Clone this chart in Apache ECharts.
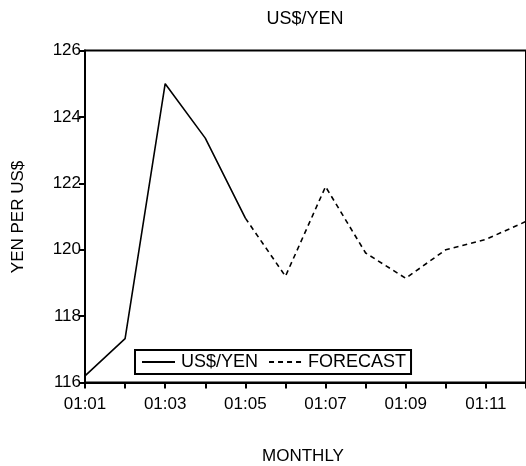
<!DOCTYPE html>
<html>
<head>
<meta charset="utf-8">
<script src="https://cdn.jsdelivr.net/npm/echarts@6/dist/echarts.min.js"></script>
<style>
html,body{margin:0;padding:0;background:#fff;}
#chart{width:526px;height:466px;}
</style>
</head>
<body>
<div id="chart"></div>
<script>
const months = ['01:01','01:02','01:03','01:04','01:05','01:06','01:07','01:08','01:09','01:10','01:11','01:12'];
const actual = [116.2, 117.32, 125.0, 123.36, 120.95, null, null, null, null, null, null, null];
const forecast = [null, null, null, null, 120.95, 119.2, 121.9, 119.9, 119.14, 120.0, 120.31, 120.85];
const yTicks = [116, 118, 120, 122, 124, 126];

const FONT = 'Liberation Sans, Arial, sans-serif';
const chart = echarts.init(document.getElementById('chart'), null, {renderer: 'canvas'});
chart.setOption({
  animation: false,
  backgroundColor: '#fff',
  title: {
    text: 'US$/YEN',
    left: 300, top: 5, textAlign: 'center',
    textStyle: {fontFamily: FONT, fontSize: 18, fontWeight: 'normal', color: '#000'}
  },
  grid: {
    left: 85, top: 50.5, width: 444.4, height: 332,
    show: true, borderColor: '#000', borderWidth: 2, backgroundColor: 'transparent'
  },
  legend: {
    left: 135, top: 350,
    itemWidth: 33, itemHeight: 10, itemGap: 10,
    padding: [3, 5, 3, 6],
    borderColor: '#000', borderWidth: 2,
    backgroundColor: '#fff',
    itemStyle: {opacity: 0},
    textStyle: {fontFamily: FONT, fontSize: 18, color: '#000', padding: [0, 0, 0, 1]},
    data: ['US$/YEN', 'FORECAST']
  },
  xAxis: {
    type: 'category', data: months, boundaryGap: false,
    axisLine: {lineStyle: {color: '#000', width: 2}},
    axisTick: {show: true, interval: 0, length: 6, lineStyle: {color: '#000', width: 2}},
    axisLabel: {interval: 1, margin: 13, fontFamily: FONT, fontSize: 17, color: '#000'},
    splitLine: {show: false}
  },
  yAxis: {
    type: 'value', min: yTicks[0], max: yTicks[yTicks.length - 1], interval: 2,
    axisLine: {show: true, lineStyle: {color: '#000', width: 2}},
    axisTick: {show: true, length: 6, lineStyle: {color: '#000', width: 2}},
    axisLabel: {margin: 4, fontFamily: FONT, fontSize: 17, color: '#000'},
    splitLine: {show: false}
  },
  graphic: [
    {type: 'text', x: 303, y: 456, style: {text: 'MONTHLY', font: '17px ' + FONT, fill: '#000', align: 'center', verticalAlign: 'middle'}},
    {type: 'text', rotation: Math.PI / 2, x: 18, y: 217, style: {text: 'YEN PER US$', font: '17px ' + FONT, fill: '#000', align: 'center', verticalAlign: 'middle'}}
  ],
  series: [
    {name: 'US$/YEN', type: 'line', data: actual, symbol: 'none', connectNulls: false,
     lineStyle: {color: '#000', width: 1.6, type: 'solid'}, itemStyle: {color: '#000'}},
    {name: 'FORECAST', type: 'line', data: forecast, symbol: 'none', connectNulls: false,
     lineStyle: {color: '#000', width: 1.6, type: [5, 4]}, itemStyle: {color: '#000'}}
  ]
});
</script>
</body>
</html>
